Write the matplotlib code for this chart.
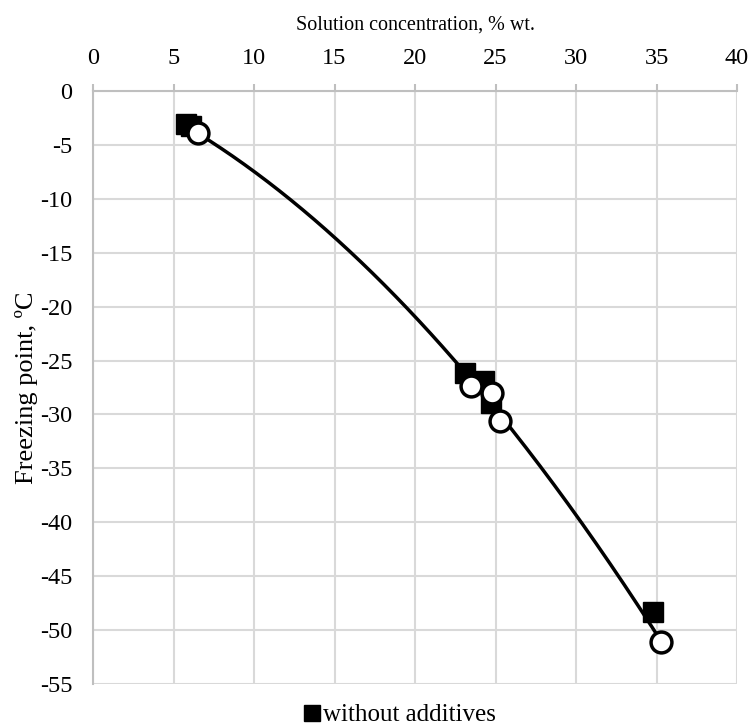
import numpy as np
import matplotlib.pyplot as plt

conc_plain = [5.75, 6.1, 23.1, 24.3, 24.7, 34.8]
tfp_plain = [-3.05, -3.25, -26.2, -26.9, -28.9, -48.3]

conc_add = [6.5, 23.5, 24.8, 25.3, 35.3]
tfp_add = [-3.9, -27.4, -28.0, -30.6, -51.1]

x_ticks = [0, 5, 10, 15, 20, 25, 30, 35, 40]
y_ticks = [0, -5, -10, -15, -20, -25, -30, -35, -40, -45, -50, -55]

plt.rcParams['font.family'] = ['Liberation Serif', 'DejaVu Serif']
plt.rcParams['axes.unicode_minus'] = False

fig = plt.figure(figsize=(7.49, 7.26), dpi=100)
ax = fig.add_axes([0.1242, 0.0579, 0.8598, 0.8167])

# polynomische Trendlinie 2. Ordnung (wie in Excel)
coef = np.polyfit(conc_add, tfp_add, 2)
xs = np.linspace(min(conc_add), max(conc_add), 200)
ax.plot(xs, np.polyval(coef, xs), color='black', lw=2.5, zorder=2)

ax.plot(conc_plain, tfp_plain, 's', color='black', ms=14, zorder=3,
        label='without additives')
ax.plot(conc_add, tfp_add, 'o', mfc='white', mec='black', mew=2.5, ms=15,
        zorder=4)

ax.set_xlim(0, 40)
ax.set_ylim(-55, 0)
ax.set_xticks(x_ticks)
ax.set_yticks(y_ticks)
ax.xaxis.tick_top()
ax.xaxis.set_label_position('top')
ax.tick_params(axis='x', direction='out', length=5, width=1.5, color='#bfbfbf',
               labelsize=17.5, pad=11)
ax.tick_params(axis='y', length=0, labelsize=17.5, pad=15)
ax.set_xlabel('Solution concentration, % wt.', fontsize=14.5, labelpad=13)
ax.set_ylabel('Freezing point, ºC', fontsize=19, labelpad=1)

ax.grid(True, color='#d9d9d9', lw=1.5)
ax.set_axisbelow(True)
for side in ['right', 'bottom']:
    ax.spines[side].set_visible(False)
for side in ['left', 'top']:
    ax.spines[side].set_color('#bfbfbf')
    ax.spines[side].set_linewidth(1.5)

fig.legend(*ax.get_legend_handles_labels(), loc='center',
           bbox_to_anchor=(400 / 749, 1 - 715 / 726), frameon=False,
           fontsize=18, handlelength=0.6, handletextpad=0.15, markerscale=0.78,
           borderpad=0, borderaxespad=0)

fig.savefig('out.png', dpi=100)
